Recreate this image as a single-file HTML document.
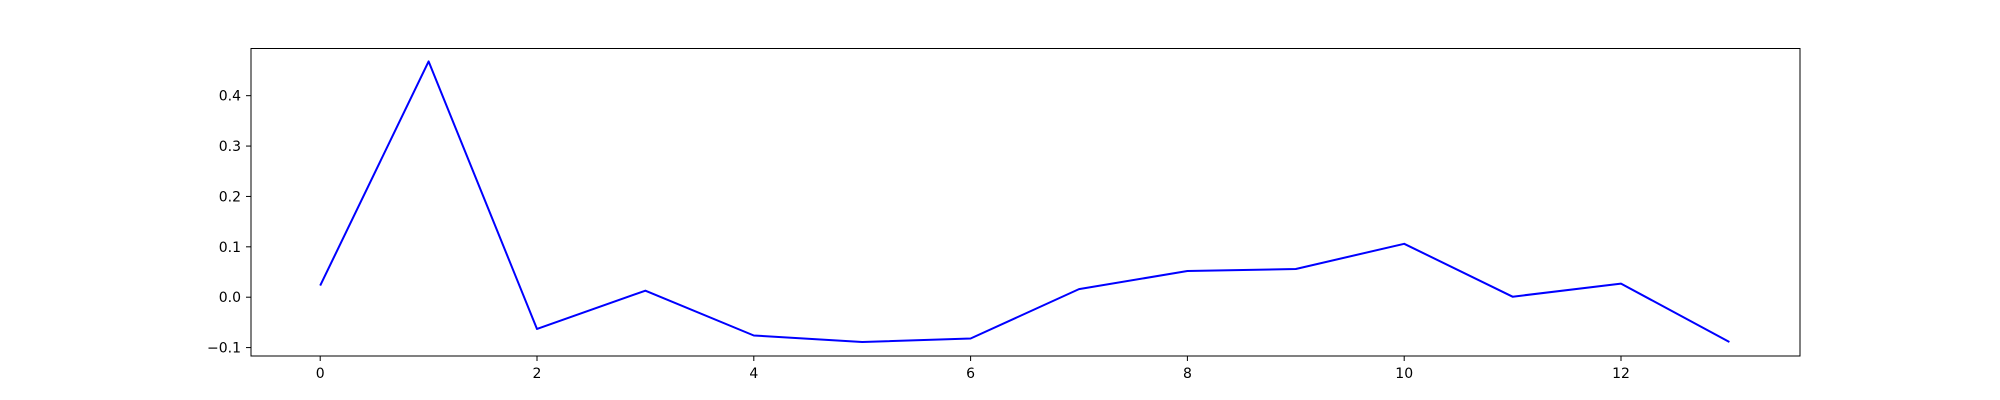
<!DOCTYPE html>
<html><head><meta charset="utf-8"><style>
html,body{margin:0;padding:0;background:#fff;}
svg{display:block;font-family:"DejaVu Sans","Liberation Sans",sans-serif;}
</style></head><body>
<svg id="chart" width="2000" height="400">
<rect x="0" y="0" width="2000" height="400" fill="#fff"/>
<rect x="251" y="48.5" width="1549" height="307.5" fill="none" stroke="#000" stroke-width="1"/>
</svg>
<script>
const xValues = [0,1,2,3,4,5,6,7,8,9,10,11,12,13];
const yValues = [0.023,0.468,-0.063,0.013,-0.076,-0.089,-0.082,0.016,0.052,0.056,0.106,0.001,0.027,-0.089];
const xTicks = [0,2,4,6,8,10,12];
const yTicks = [-0.1,0.0,0.1,0.2,0.3,0.4];
const yTickLabels = ["\u22120.1","0.0","0.1","0.2","0.3","0.4"];

const svg = document.getElementById('chart');
const NS = 'http://www.w3.org/2000/svg';
function xs(v){ return 320.2 + v*108.4; }
function ys(v){ return 297.2 - v*503.8; }
function mk(tag, attrs){ const e=document.createElementNS(NS,tag); for(const k in attrs) e.setAttribute(k,attrs[k]); svg.appendChild(e); return e; }

xTicks.forEach(t=>{
  const l = mk('line',{x1:xs(t),x2:xs(t),y1:356,y2:361,stroke:'#000','stroke-width':1});
  
  
  const tx = mk('text',{x:xs(t),y:378,'text-anchor':'middle','font-size':'14px',fill:'#000'});
  tx.textContent = String(t);
  
  
});
yTicks.forEach((t,i)=>{
  const l = mk('line',{x1:246,x2:251,y1:ys(t),y2:ys(t),stroke:'#000','stroke-width':1});
  
  
  const tx = mk('text',{x:241,y:ys(t)+5,'text-anchor':'end','font-size':'14px',fill:'#000'});
  tx.textContent = yTickLabels[i];
  
  
});
const pts = xValues.map((x,i)=>xs(x)+','+ys(yValues[i])).join(' ');
const line = mk('polyline',{points:pts,fill:'none',stroke:'#0000ff','stroke-width':2,'stroke-linejoin':'round'});


</script>
</body></html>
